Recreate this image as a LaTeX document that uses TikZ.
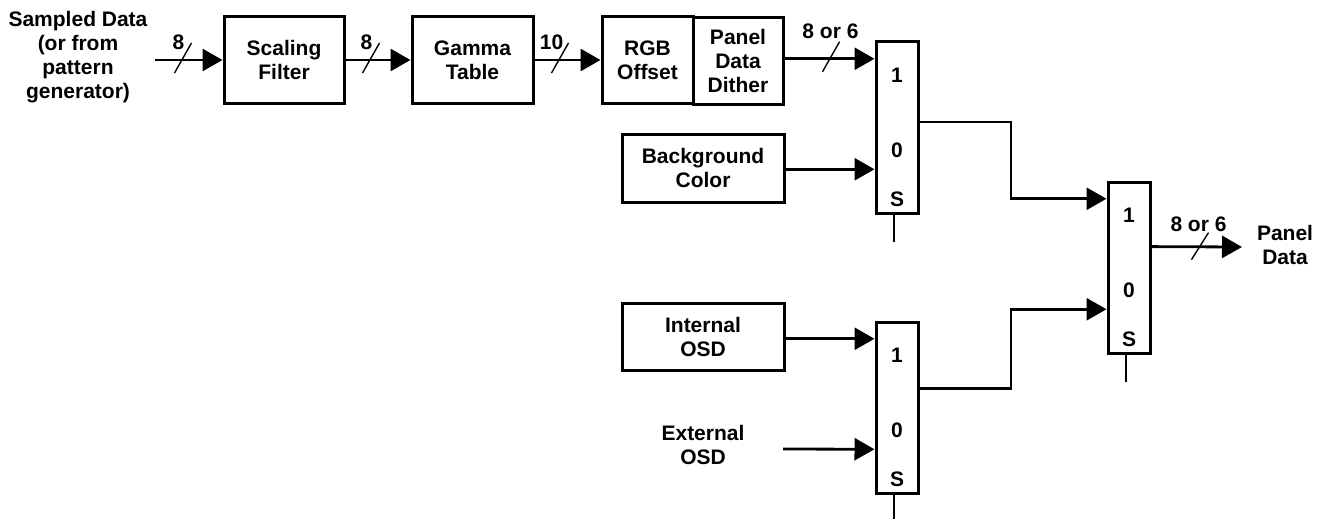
\documentclass[tikz,border=0pt]{standalone}
\usepackage{fontspec}
\setmainfont{Liberation Sans}
\usetikzlibrary{arrows.meta,calc}
\newcommand\dfont{\bfseries\fontsize{21}{24}\selectfont}
\tikzset{
  blk/.style={draw, line width=3pt, inner sep=0pt, align=center, font=\dfont},
  mux/.style={draw, line width=3pt, inner sep=0pt, minimum width=42pt, minimum height=171pt},
  txt/.style={inner sep=0pt, align=center, font=\dfont},
  conn/.style={line width=2.8pt},
  arr/.style={line width=2.8pt, -{Triangle[length=20pt,width=22pt]}},
  stem/.style={line width=2pt},
  busslash/.style={line width=1.4pt},
}
\begin{document}
\begin{tikzpicture}[x=1pt,y=-1pt]
\useasboundingbox (0,0) rectangle (1330,519);

% input
\node[txt] (src) at (78,57) {Sampled Data\\(or from\\pattern\\generator)};
\coordinate (in) at (155,60);

% top chain
\node[blk, minimum width=120pt, minimum height=86pt] (sf) at (284,60) {Scaling\\Filter};
\node[blk, minimum width=121pt, minimum height=86pt] (gt) at (472.5,60) {Gamma\\Table};
\node[blk, minimum width=91pt, minimum height=86pt] (rgb) at (647.5,60) {RGB\\Offset};
\node[blk, minimum width=90pt, minimum height=86pt] (dith) at (738,61) {Panel\\Data\\Dither};

% muxes
\node[mux] (mux1) at (897,127.5) {};
\node[mux] (mux2) at (1129,267.5) {};
\node[mux] (mux3) at (897,407.5) {};
\foreach \m in {mux1,mux2,mux3}{
  \node[txt] (\m-l1) at ($(\m.north)+(0,35)$) {1};
  \node[txt] (\m-l0) at ($(\m.north)+(0,110)$) {0};
  \node[txt] (\m-ls) at ($(\m.north)+(0,159)$) {S};
  \coordinate (\m-i1) at ($(\m.north west)!0.105!(\m.south west)$);
  \coordinate (\m-i0) at ($(\m.north west)!0.74!(\m.south west)$);
  \coordinate (\m-st) at ($(\m.south)+(-3,0)$);
  \draw[stem] (\m-st) -- ++(0,27);
}
\coordinate (mux1-o) at ($(mux1.north east)!0.468!(mux1.south east)$);
\coordinate (mux2-o) at ($(mux2.north east)!0.38!(mux2.south east)$);
\coordinate (mux3-o) at ($(mux3.north east)!0.39!(mux3.south east)$);

% side sources
\node[blk, minimum width=162pt, minimum height=68pt] (bg) at (703,168) {Background\\Color};
\node[blk, minimum width=162pt, minimum height=67pt] (io) at (703,336.5) {Internal\\OSD};
\node[txt] (eo) at (703,445) {External\\OSD};
\coordinate (eoend) at (783,449);

% output
\node[txt] (pd) at (1285,245) {Panel\\Data};
\coordinate (pdend) at (1242,247);
\coordinate (jx) at (1011,0);

% connectors
\draw[arr] (in) -- (sf.west);
\draw[arr] (sf.east) -- (gt.west);
\draw[arr] (gt.east) -- (rgb.west);
\draw[arr] (dith.east |- mux1-i1) -- (mux1-i1);
\draw[arr] (bg.east |- mux1-i0) -- (mux1-i0);
\draw[arr] (io.east |- mux3-i1) -- (mux3-i1);
\draw[arr] (eoend) -- (mux3-i0);
\draw[arr] (mux1-o) -- (mux1-o -| jx) |- (mux2-i1);
\draw[arr] (mux3-o) -- (mux3-o -| jx) |- (mux2-i0);
\draw[arr] (mux2-o) -- (pdend);

% bus width slashes and labels
\draw[busslash] ($(sf.west)+(-40,0)$) ++(-8,13) -- ++(17,-30);
\node[txt] (w1) at ($(sf.west)+(-44,-18)$) {8};
\draw[busslash] ($(gt.west)+(-40,0)$) ++(-8,13) -- ++(17,-30);
\node[txt] (w2) at ($(gt.west)+(-44,-18)$) {8};
\draw[busslash] ($(rgb.west)+(-41,0)$) ++(-8,13) -- ++(17,-30);
\node[txt] (w3) at ($(rgb.west)+(-49,-18)$) {10};
\draw[busslash] ($(mux1-i1)+(-44,0)$) ++(-8,13) -- ++(17,-30);
\node[txt] (w4) at ($(mux1-i1)+(-44,-27)$) {8 or 6};
\draw[busslash] ($(mux2-o)+(48,0)$) ++(-8,13) -- ++(17,-27);
\node[txt] (w5) at ($(mux2-o)+(47,-22)$) {8 or 6};
\end{tikzpicture}
\end{document}
